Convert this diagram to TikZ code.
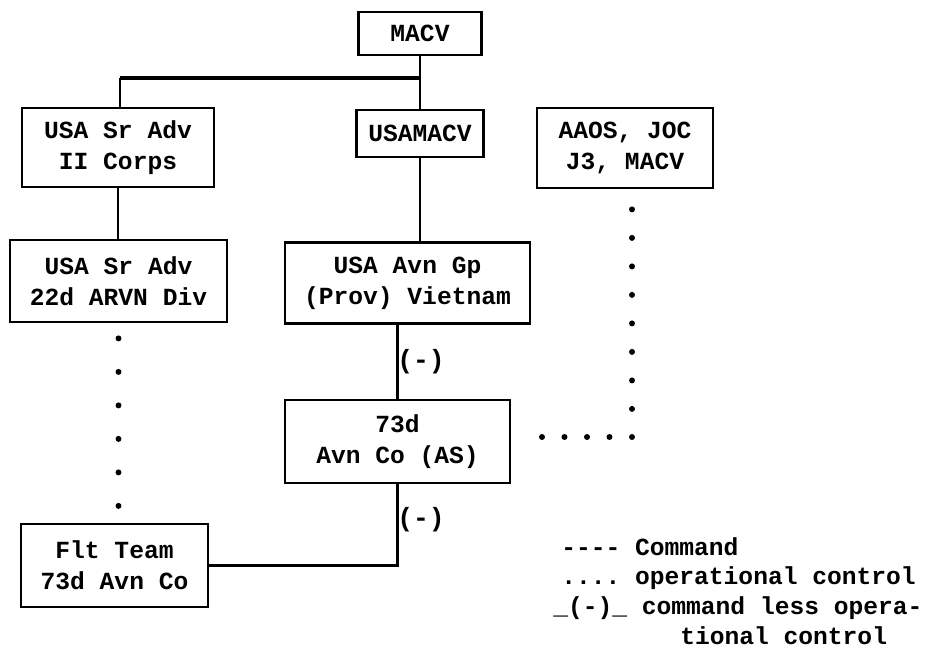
\documentclass[tikz,border=0pt]{standalone}
\usepackage{fontspec}
\setmonofont{Liberation Mono}

\begin{document}
\begin{tikzpicture}[
  x=0.2mm, y=-0.2mm,
  font=\ttfamily\bfseries\fontsize{14}{17.5}\selectfont,
  box/.style={draw,line width=1.6pt,align=center,inner sep=2pt},
  cmd/.style={line width=1.2pt},
  barline/.style={line width=2.2pt},
  opc/.style={line width=3.4pt,line cap=round,dash pattern=on 0pt off #1},
  lbl/.style={inner sep=0pt,font=\ttfamily\bfseries\fontsize{15}{18}\selectfont},
  leg/.style={anchor=west,inner sep=0pt}
]
\useasboundingbox (0,0) rectangle (932,652);

% organisations
\node[box,minimum width=24.6mm,minimum height=8.6mm] (macv) at (420,33.5) {MACV};
\node[box,minimum width=38.4mm,minimum height=15.8mm] (corps) at (118,147.5) {USA Sr Adv\\II Corps};
\node[box,minimum width=25.4mm,minimum height=9.4mm] (usamacv) at (420,133.5) {USAMACV};
\node[box,minimum width=35.2mm,minimum height=16mm] (aaos) at (625,148) {AAOS, JOC\\J3, MACV};
\node[box,minimum width=43.4mm,minimum height=16.4mm] (arvn) at (118.5,281) {USA Sr Adv\\22d ARVN Div};
\node[box,minimum width=49mm,minimum height=16.2mm] (avngp) at (407.5,283) {USA Avn Gp\\(Prov) Vietnam};
\node[box,minimum width=45mm,minimum height=16.6mm] (avnco) at (397.5,441.5) {73d\\Avn Co (AS)};
\node[box,minimum width=37.4mm,minimum height=16.6mm] (flt) at (114.5,565.5) {Flt Team\\73d Avn Co};

% command
\coordinate (fork) at (120,78);
\draw[cmd] (macv.south) -- (macv.south |- fork);
\draw[barline] (macv.south |- fork) -- (fork);
\draw[cmd] (fork) -- (fork |- corps.north);
\draw[cmd] (macv.south |- fork) -- (usamacv.north);
\draw[cmd] (corps.south) -- (corps.south |- arvn.north);
\draw[cmd] (usamacv.south) -- (usamacv.south |- avngp.north);
\draw[cmd] (avnco.north) -- (avnco.north |- avngp.south);
\node[lbl] (less1) at (421,362) {(-)};
\draw[cmd] (avnco.south) |- (flt.east);
\node[lbl] (less2) at (421,520) {(-)};

% operational control
\draw[opc=6.7mm,shorten <=3mm,shorten >=2.8mm] (arvn.south) -- (arvn.south |- flt.north);
\coordinate (turn) at (632,437);
\draw[opc=5.7mm,shorten <=4mm] (turn |- aaos.south) -- (turn);
\draw[opc=4.5mm,shorten >=1.8mm] (turn) -- (turn -| avnco.east);

% legend
\node[leg] (legcmd) at (561,547) {{-}{-}{-}{-} Command};
\node[leg] (legopc) at (561,578) {.... operational control};
\node[leg] (legless) at (553,608) {\_(-)\_ command less opera-};
\node[leg] (legtail) at (680,636) {tional control};
\end{tikzpicture}
\end{document}
